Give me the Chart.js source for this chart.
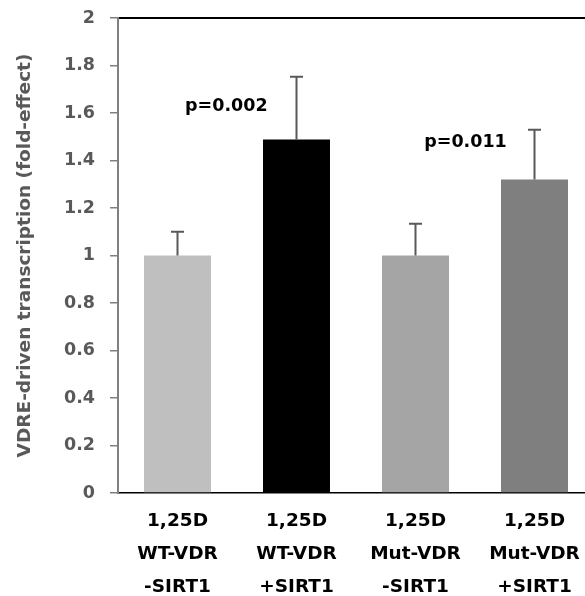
<!DOCTYPE html>
<html>
<head>
<meta charset="utf-8">
<script src="https://cdn.jsdelivr.net/npm/chart.js@4.4.1/dist/chart.umd.min.js"></script>
<style>
  html, body { margin: 0; padding: 0; background: #fff; overflow: hidden; }
  #wrap { position: relative; width: 594px; height: 596px; }
</style>
</head>
<body>
<div id="wrap"><canvas id="chart"></canvas></div>
<script>
// datos
const categories = [
  ["1,25D", "WT-VDR", "-SIRT1"],
  ["1,25D", "WT-VDR", "+SIRT1"],
  ["1,25D", "Mut-VDR", "-SIRT1"],
  ["1,25D", "Mut-VDR", "+SIRT1"],
];
const means = [1.0, 1.488, 1.0, 1.32];
const errors = [0.10, 0.265, 0.134, 0.21];
const barColors = ["#bfbfbf", "#000000", "#a5a5a5", "#7f7f7f"];
const pLabels = ["p=0.002", "p=0.011"];
const pX = [0.41, 2.42]; // posición entre categorías
const pY = [1.627, 1.475];

const FONT = "'DejaVu Sans', sans-serif";

// barras de error + p-values
const extras = {
  id: "extras",
  afterDatasetsDraw(chart) {
    const { ctx, scales } = chart;
    const x = scales.x, y = scales.y;
    ctx.save();
    ctx.strokeStyle = "#595959";
    ctx.lineWidth = 2;
    means.forEach((m, i) => {
      const cx = x.getPixelForValue(i);
      const y0 = y.getPixelForValue(m);
      const y1 = y.getPixelForValue(m + errors[i]);
      ctx.beginPath();
      ctx.moveTo(cx, y0);
      ctx.lineTo(cx, y1);
      ctx.moveTo(cx - 6.5, y1);
      ctx.lineTo(cx + 6.5, y1);
      ctx.stroke();
    });
    ctx.fillStyle = "#000";
    ctx.font = "bold 17.5px " + FONT;
    ctx.textAlign = "center";
    ctx.textBaseline = "middle";
    pLabels.forEach((t, i) => {
      const px = x.left + (pX[i] + 0.5) * (x.width / categories.length);
      ctx.fillText(t, px, y.getPixelForValue(pY[i]));
    });
    ctx.restore();
  },
};

new Chart(document.getElementById("chart"), {
  type: "bar",
  data: {
    labels: categories,
    datasets: [
      {
        data: means,
        backgroundColor: barColors,
        barPercentage: 0.563,
        categoryPercentage: 1.0,
      },
    ],
  },
  options: {
    responsive: true,
    maintainAspectRatio: false,
    animation: false,
    layout: { padding: { top: 18, left: 0, right: 0, bottom: 0 } },
    plugins: { legend: { display: false }, tooltip: { enabled: false } },
    scales: {
      x: {
        grid: { display: false, drawTicks: false },
        border: { color: "#000", width: 1.5 },
        ticks: {
          color: "#000",
          font: { family: FONT, size: 18.5, weight: "bold", lineHeight: 1.78 },
          padding: 12,
          maxRotation: 0,
        },
        afterFit(s) { s.height = 103; },
      },
      xTop: {
        position: "top",
        grid: { display: false, drawTicks: false },
        ticks: { display: false },
        border: { color: "#000", width: 2 },
        afterFit(s) { s.height = 0; s.paddingLeft = 0; s.paddingRight = 0; },
      },
      y: {
        min: 0,
        max: 2,
        ticks: {
          stepSize: 0.1,
          color: "#595959",
          padding: 15,
          font: { family: FONT, size: 17.5, weight: "bold" },
          callback: (v) => {
            const r = Math.round(v * 10);
            return r % 2 === 0 ? String(r / 10) : "";
          },
        },
        grid: { drawOnChartArea: false, tickLength: 8, color: "#808080", lineWidth: 1.5 },
        border: { color: "#808080", width: 2 },
        title: {
          display: true,
          text: "VDRE-driven transcription (fold-effect)",
          color: "#595959",
          font: { family: FONT, size: 18.5, weight: "bold" },
          padding: { top: 14, bottom: 0 },
        },
        afterFit(s) { s.width = 118; s.paddingTop = 0; s.paddingBottom = 0; },
      },
    },
  },
  plugins: [extras],
});
</script>
</body>
</html>
